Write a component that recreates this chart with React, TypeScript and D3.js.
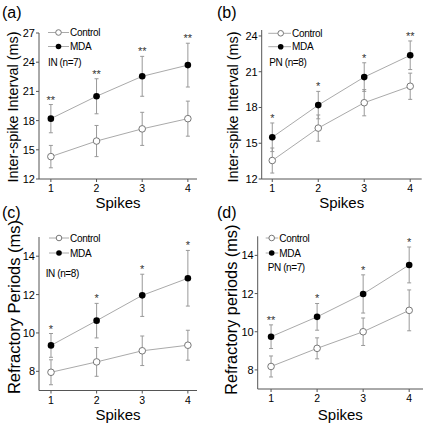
import React from "react";
import * as d3 from "d3";

// ---------- data ----------
const spikes = [1, 2, 3, 4];

// (a) Inter-spike interval, IN (n=7)
const isiINControl = [14.3, 15.9, 17.15, 18.2];
const isiINControlErr = [1.15, 1.6, 1.7, 1.8];
const isiINMDA = [18.2, 20.5, 22.55, 23.7];
const isiINMDAErr = [1.45, 1.8, 2.05, 2.25];
const isiINSig = ["**", "**", "**", "**"];

// (b) Inter-spike interval, PN (n=8)
const isiPNControl = [13.55, 16.27, 18.4, 19.78];
const isiPNControlErr = [1.05, 1.1, 1.1, 1.1];
const isiPNMDA = [15.5, 18.2, 20.55, 22.38];
const isiPNMDAErr = [1.2, 1.15, 1.2, 1.2];
const isiPNSig = ["*", "*", "*", "**"];

// (c) Refractory periods, IN (n=8)
const rpINControl = [7.95, 8.49, 9.07, 9.36];
const rpINControlErr = [0.65, 0.75, 0.77, 0.78];
const rpINMDA = [9.35, 10.64, 11.96, 12.85];
const rpINMDAErr = [0.62, 0.9, 1.1, 1.45];
const rpINSig = ["*", "*", "*", "*"];

// (d) Refractory periods, PN (n=7)
const rpPNControl = [8.18, 9.13, 10.0, 11.12];
const rpPNControlErr = [0.55, 0.55, 0.72, 1.07];
const rpPNMDA = [9.74, 10.78, 11.98, 13.5];
const rpPNMDAErr = [0.62, 0.7, 1.0, 0.94];
const rpPNSig = ["**", "*", "*", "*"];

const isiINTicks = [12, 15, 18, 21, 24, 27];
const isiPNTicks = [12, 15, 18, 21, 24];
const rpTicks = [8, 10, 12, 14];

const seriesNames = ["Control", "MDA"];

// ---------- styling ----------
const FONT = "'Liberation Sans', Arial, Helvetica, sans-serif";
const AXIS = "#555";
const LINE = "#aaa";
const ERR = "#999";
const OPEN = "#777";

type PanelProps = {
  letter: string;
  letterXY: [number, number];
  yLabel: string;
  yLabelFont: number;
  yLabelXY: [number, number];
  xRange: [number, number];
  xDomain: [number, number];
  yRange: [number, number];
  yDomain: [number, number];
  yTicks: number[];
  control: number[];
  controlErr: number[];
  mda: number[];
  mdaErr: number[];
  sig: string[];
  group: string;
  legendX: [number, number, number];
  legendY: [number, number, number];
  groupX: number;
  spikesY: number;
};

function Panel(p: PanelProps) {
  const x = d3.scaleLinear().domain(p.xDomain).range(p.xRange);
  const y = d3.scaleLinear().domain(p.yDomain).range(p.yRange);
  const line = d3
    .line<number>()
    .x((_, i) => x(spikes[i]))
    .y((d) => y(d));
  const x0 = p.xRange[0];
  const y0 = p.yRange[0];
  const cap = 2;

  const errBars = (vals: number[], errs: number[], key: string) =>
    vals.map((v, i) => {
      const cx = x(spikes[i]);
      const top = y(v + errs[i]);
      const bot = y(v - errs[i]);
      return (
        <g key={key + i} stroke={ERR} strokeWidth={1}>
          <line x1={cx} x2={cx} y1={top} y2={bot} />
          <line x1={cx - cap} x2={cx + cap} y1={top} y2={top} />
          <line x1={cx - cap} x2={cx + cap} y1={bot} y2={bot} />
        </g>
      );
    });

  const [lx1, lxm, lx2] = p.legendX;
  return (
    <g fontFamily={FONT}>
      <text x={p.letterXY[0]} y={p.letterXY[1]} fontSize={16}>
        {p.letter}
      </text>
      <text
        transform={`translate(${p.yLabelXY[0]},${p.yLabelXY[1]}) rotate(-90)`}
        textAnchor="middle"
        fontSize={p.yLabelFont}
      >
        {p.yLabel}
      </text>
      <text
        x={(p.xRange[0] + p.xRange[1]) / 2}
        y={p.spikesY}
        textAnchor="middle"
        fontSize={15}
      >
        Spikes
      </text>

      {/* axes */}
      <line x1={x0} x2={x0} y1={y0} y2={p.yRange[1]} stroke={AXIS} />
      <line x1={x0} x2={p.xRange[1]} y1={y0} y2={y0} stroke={AXIS} />
      {p.yTicks.map((t) => (
        <g key={"yt" + t}>
          <line x1={x0 - 3} x2={x0} y1={y(t)} y2={y(t)} stroke={AXIS} />
          <text x={x0 - 4} y={y(t) + 4} textAnchor="end" fontSize={11}>
            {t}
          </text>
        </g>
      ))}
      {spikes.map((s) => (
        <g key={"xt" + s}>
          <line x1={x(s)} x2={x(s)} y1={y0} y2={y0 + 3} stroke={AXIS} />
          <text x={x(s)} y={y0 + 13} textAnchor="middle" fontSize={10.5}>
            {s}
          </text>
        </g>
      ))}

      {/* series */}
      <path d={line(p.control) || ""} fill="none" stroke={LINE} />
      <path d={line(p.mda) || ""} fill="none" stroke={LINE} />
      {errBars(p.control, p.controlErr, "c")}
      {errBars(p.mda, p.mdaErr, "m")}
      {p.control.map((v, i) => (
        <circle key={"co" + i} cx={x(spikes[i])} cy={y(v)} r={3.3} fill="#fff" stroke={OPEN} />
      ))}
      {p.mda.map((v, i) => (
        <circle key={"mo" + i} cx={x(spikes[i])} cy={y(v)} r={3.3} fill="#000" />
      ))}
      {p.sig.map((s, i) => (
        <text
          key={"s" + i}
          x={x(spikes[i])}
          y={y(p.mda[i] + p.mdaErr[i]) - 1}
          textAnchor="middle"
          fontSize={11}
          fill="#333"
        >
          {s}
        </text>
      ))}

      {/* legend */}
      <line x1={lx1} x2={lx2} y1={p.legendY[0]} y2={p.legendY[0]} stroke={LINE} />
      <circle cx={lxm} cy={p.legendY[0]} r={2.8} fill="#fff" stroke={OPEN} />
      <text x={lx2 + 1} y={p.legendY[0] + 3.5} fontSize={10} letterSpacing={-0.3}>
        {seriesNames[0]}
      </text>
      <line x1={lx1} x2={lx2} y1={p.legendY[1]} y2={p.legendY[1]} stroke={LINE} />
      <circle cx={lxm} cy={p.legendY[1]} r={2.8} fill="#000" />
      <text x={lx2 + 1} y={p.legendY[1] + 3.5} fontSize={10} letterSpacing={-0.3}>
        {seriesNames[1]}
      </text>
      <text x={p.groupX} y={p.legendY[2]} fontSize={10} letterSpacing={-0.4}>
        {p.group}
      </text>
    </g>
  );
}

export default function App() {
  return (
    <svg width={430} height={426} style={{ display: "block", position: "absolute", left: 0, top: 0 }}>
      <rect width={430} height={426} fill="#fff" />
      <Panel
        letter="(a)"
        letterXY={[2, 17.5]}
        yLabel="Inter-spike Interval (ms)"
        yLabelFont={14.4}
        yLabelXY={[17.5, 107]}
        xRange={[39, 197]}
        xDomain={[0.74, 4.2]}
        yRange={[179, 33]}
        yDomain={[12, 27]}
        yTicks={isiINTicks}
        control={isiINControl}
        controlErr={isiINControlErr}
        mda={isiINMDA}
        mdaErr={isiINMDAErr}
        sig={isiINSig}
        group="IN (n=7)"
        legendX={[48, 58.5, 69]}
        legendY={[32.5, 46.5, 65.5]}
        groupX={48}
        spikesY={207.5}
      />
      <Panel
        letter="(b)"
        letterXY={[217, 17.5]}
        yLabel="Inter-spike Interval (ms)"
        yLabelFont={14.4}
        yLabelXY={[237.5, 107]}
        xRange={[261.7, 421.7]}
        xDomain={[0.77, 4.25]}
        yRange={[179, 30]}
        yDomain={[12, 24.5]}
        yTicks={isiPNTicks}
        control={isiPNControl}
        controlErr={isiPNControlErr}
        mda={isiPNMDA}
        mdaErr={isiPNMDAErr}
        sig={isiPNSig}
        group="PN (n=8)"
        legendX={[268.3, 280.7, 291]}
        legendY={[33.3, 46.7, 65.5]}
        groupX={269.3}
        spikesY={207.5}
      />
      <Panel
        letter="(c)"
        letterXY={[2, 218]}
        yLabel="Refractory Periods (ms)"
        yLabelFont={16.5}
        yLabelXY={[19.5, 307]}
        xRange={[39, 197]}
        xDomain={[0.737, 4.2]}
        yRange={[390.5, 237]}
        yDomain={[7, 15]}
        yTicks={rpTicks}
        control={rpINControl}
        controlErr={rpINControlErr}
        mda={rpINMDA}
        mdaErr={rpINMDAErr}
        sig={rpINSig}
        group="IN (n=8)"
        legendX={[49, 59, 69]}
        legendY={[238, 253, 276.5]}
        groupX={45.7}
        spikesY={419.5}
      />
      <Panel
        letter="(d)"
        letterXY={[217, 218]}
        yLabel="Refractory periods (ms)"
        yLabelFont={16.3}
        yLabelXY={[236.7, 309.7]}
        xRange={[257.7, 423]}
        xDomain={[0.71, 4.3]}
        yRange={[389, 236.3]}
        yDomain={[7, 15]}
        yTicks={rpTicks}
        control={rpPNControl}
        controlErr={rpPNControlErr}
        mda={rpPNMDA}
        mdaErr={rpPNMDAErr}
        sig={rpPNSig}
        group="PN (n=7)"
        legendX={[265.7, 271.7, 278.3]}
        legendY={[238, 253, 270.5]}
        groupX={267.7}
        spikesY={420}
      />
    </svg>
  );
}
